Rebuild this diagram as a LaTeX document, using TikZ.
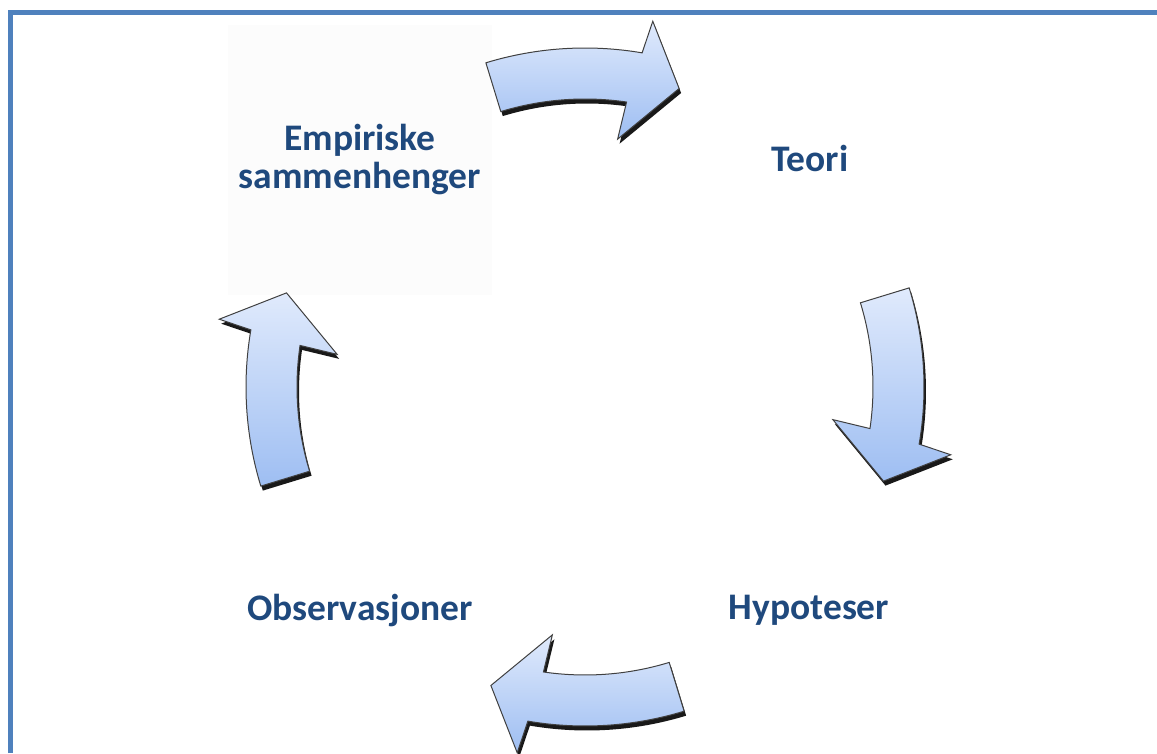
\documentclass[tikz,border=0pt]{standalone}
\usepackage{fontspec}
\setmainfont{Carlito}
\usetikzlibrary{calc}
\definecolor{framebl}{RGB}{79,129,189}
\definecolor{labelbl}{RGB}{31,73,125}
\definecolor{arrtop}{RGB}{224,234,252}
\definecolor{arrbot}{RGB}{158,190,242}

\tikzset{
  arrowshadow/.style={fill=black!90,transform canvas={shift={(2pt,-4.5pt)}}},
  pics/cyclearrow/.style={code={
    \path[preaction={arrowshadow},top color=arrtop,bottom color=arrbot,
          draw=black!75,line width=1pt]
      (#1+17:288) -- (#1+17:339)
      arc[start angle=#1+17,end angle=#1-9.7,radius=339]
      -- (#1-10.5:372) -- (#1-17.5:313) -- (#1-7.5:250) -- (#1-8.3:288)
      arc[start angle=#1-8.3,end angle=#1+17,radius=288] -- cycle;
  }}
}

\begin{document}
\begin{tikzpicture}[x=1pt,y=1pt]
\useasboundingbox (0,0) rectangle (1157,753);
% frame, only left and top
\draw[framebl,line width=5pt] (10.5,0) -- (10.5,740) -- (1157,740);

\begin{scope}[every node/.style={text=labelbl,font=\fontsize{37.5}{38}\selectfont\bfseries,align=center}]
    \node[fill=black!1,minimum width=264,minimum height=270] (emp) at (360,593) {Empiriske\\sammenhenger};
    \node[anchor=base] (teori) at (810,581) {Teori};
    \node[anchor=base] (hyp) at (809,134) {Hypoteser};
    \node[anchor=base] (obs) at (360,132) {Observasjoner};
\end{scope}

\coordinate (mid) at (585,366);
\begin{scope}
    \pic at (mid) {cyclearrow=90};
    \pic at (mid) {cyclearrow=0};
    \pic at (mid) {cyclearrow=270};
    \pic at (mid) {cyclearrow=180};
\end{scope}
\end{tikzpicture}
\end{document}
